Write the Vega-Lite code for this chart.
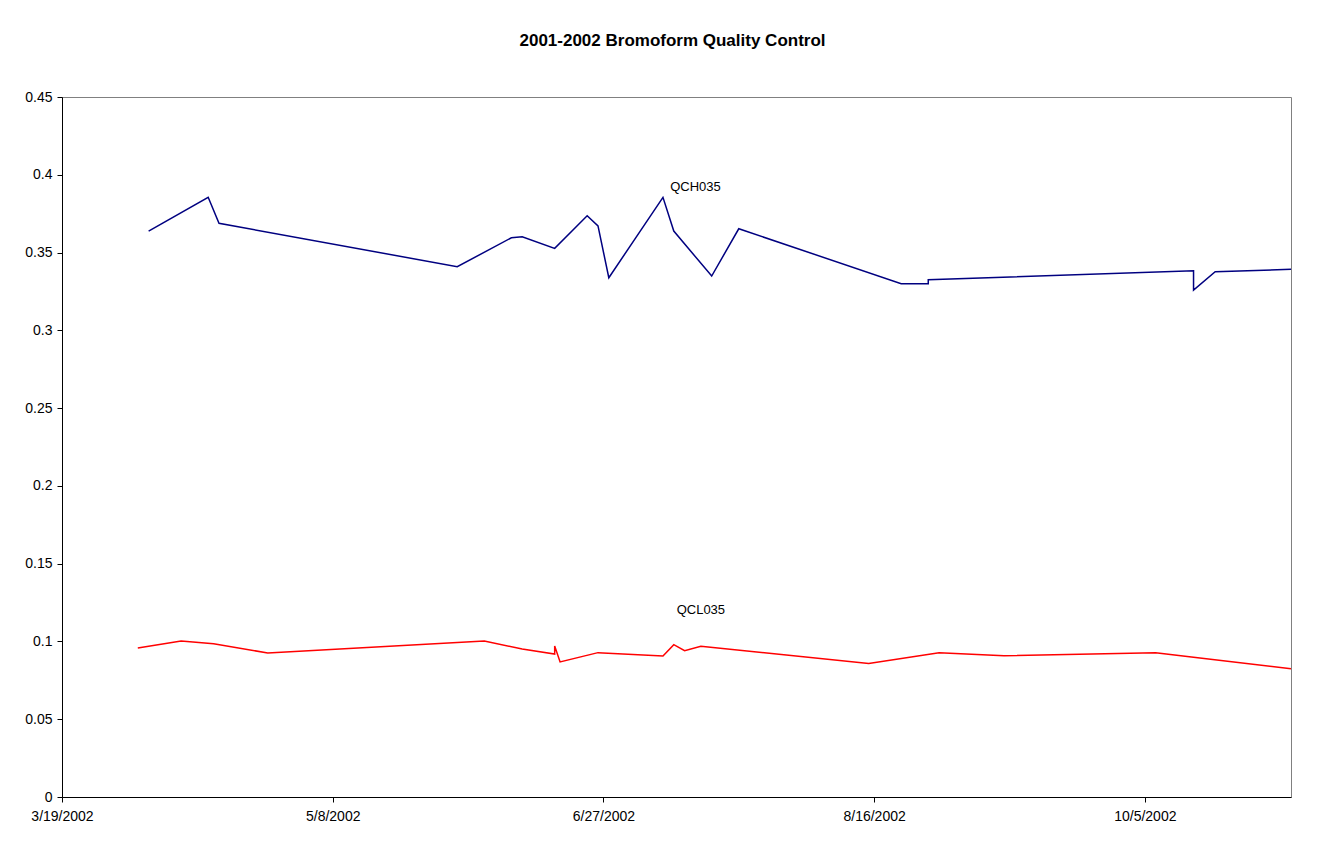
{
  "$schema": "https://vega.github.io/schema/vega-lite/v6.json",
  "autosize": {"type": "none"},
  "width": 1229,
  "height": 700,
  "padding": {"left": 62, "top": 97, "right": 51, "bottom": 47},
  "background": "white",
  "title": {
    "text": "2001-2002 Bromoform Quality Control",
    "font": "Liberation Sans",
    "fontSize": 17,
    "fontWeight": "bold",
    "color": "black",
    "anchor": "middle",
    "offset": 40,
    "dx": -4
  },
  "config": {
    "view": {"stroke": "#808080", "strokeWidth": 1},
    "axis": {
      "labelFont": "Liberation Sans",
      "labelFontSize": 14,
      "labelColor": "black",
      "domainColor": "black",
      "tickColor": "black",
      "grid": false,
      "title": null,
      "tickSize": 5
    }
  },
  "datasets": {
    "series": [
      {"series": "QCH035", "seq": 1, "date": "2002-04-04", "value": 0.3638},
      {"series": "QCH035", "seq": 2, "date": "2002-04-15", "value": 0.3855},
      {"series": "QCH035", "seq": 3, "date": "2002-04-17", "value": 0.3688},
      {"series": "QCH035", "seq": 4, "date": "2002-05-31", "value": 0.3409},
      {"series": "QCH035", "seq": 5, "date": "2002-06-10", "value": 0.3595},
      {"series": "QCH035", "seq": 6, "date": "2002-06-12", "value": 0.3602},
      {"series": "QCH035", "seq": 7, "date": "2002-06-18", "value": 0.3527},
      {"series": "QCH035", "seq": 8, "date": "2002-06-24", "value": 0.3737},
      {"series": "QCH035", "seq": 9, "date": "2002-06-26", "value": 0.3671},
      {"series": "QCH035", "seq": 10, "date": "2002-06-28", "value": 0.3338},
      {"series": "QCH035", "seq": 11, "date": "2002-07-08", "value": 0.3855},
      {"series": "QCH035", "seq": 12, "date": "2002-07-10", "value": 0.3638},
      {"series": "QCH035", "seq": 13, "date": "2002-07-17", "value": 0.3349},
      {"series": "QCH035", "seq": 14, "date": "2002-07-22", "value": 0.3653},
      {"series": "QCH035", "seq": 15, "date": "2002-08-21", "value": 0.3300},
      {"series": "QCH035", "seq": 16, "date": "2002-08-26", "value": 0.3300},
      {"series": "QCH035", "seq": 17, "date": "2002-08-26", "value": 0.3325},
      {"series": "QCH035", "seq": 18, "date": "2002-10-14", "value": 0.3383},
      {"series": "QCH035", "seq": 19, "date": "2002-10-14", "value": 0.3259},
      {"series": "QCH035", "seq": 20, "date": "2002-10-18", "value": 0.3377},
      {"series": "QCH035", "seq": 21, "date": "2002-11-01", "value": 0.3392},
      {"series": "QCL035", "seq": 1, "date": "2002-04-02", "value": 0.0958},
      {"series": "QCL035", "seq": 2, "date": "2002-04-10", "value": 0.1003},
      {"series": "QCL035", "seq": 3, "date": "2002-04-16", "value": 0.0985},
      {"series": "QCL035", "seq": 4, "date": "2002-04-26", "value": 0.0926},
      {"series": "QCL035", "seq": 5, "date": "2002-06-05", "value": 0.1003},
      {"series": "QCL035", "seq": 6, "date": "2002-06-12", "value": 0.0951},
      {"series": "QCL035", "seq": 7, "date": "2002-06-18", "value": 0.0919},
      {"series": "QCL035", "seq": 8, "date": "2002-06-18", "value": 0.0971},
      {"series": "QCL035", "seq": 9, "date": "2002-06-19", "value": 0.0868},
      {"series": "QCL035", "seq": 10, "date": "2002-06-26", "value": 0.0928},
      {"series": "QCL035", "seq": 11, "date": "2002-07-08", "value": 0.0906},
      {"series": "QCL035", "seq": 12, "date": "2002-07-10", "value": 0.0979},
      {"series": "QCL035", "seq": 13, "date": "2002-07-12", "value": 0.0940},
      {"series": "QCL035", "seq": 14, "date": "2002-07-15", "value": 0.0969},
      {"series": "QCL035", "seq": 15, "date": "2002-08-15", "value": 0.0859},
      {"series": "QCL035", "seq": 16, "date": "2002-08-28", "value": 0.0928},
      {"series": "QCL035", "seq": 17, "date": "2002-09-09", "value": 0.0908},
      {"series": "QCL035", "seq": 18, "date": "2002-10-07", "value": 0.0928},
      {"series": "QCL035", "seq": 19, "date": "2002-10-14", "value": 0.0898},
      {"series": "QCL035", "seq": 20, "date": "2002-11-01", "value": 0.0825}
    ],
    "labels": [
      {"series": "QCH035", "date": "2002-07-14", "value": 0.3896},
      {"series": "QCL035", "date": "2002-07-15", "value": 0.1176}
    ]
  },
  "encoding": {
    "x": {
      "field": "date",
      "type": "temporal",
      "scale": {
        "type": "utc",
        "domain": [
          {"year": 2002, "month": 3, "date": 19, "utc": true},
          {"year": 2002, "month": 11, "date": 1, "utc": true}
        ]
      },
      "axis": {
        "labelExpr": "utcFormat(datum.value, '%-m/%-d/%Y')",
        "labelPadding": 7,
        "labelFlush": false,
        "labelOverlap": false,
        "values": [
          {"year": 2002, "month": 3, "date": 19, "utc": true},
          {"year": 2002, "month": 5, "date": 8, "utc": true},
          {"year": 2002, "month": 6, "date": 27, "utc": true},
          {"year": 2002, "month": 8, "date": 16, "utc": true},
          {"year": 2002, "month": 10, "date": 5, "utc": true}
        ]
      }
    },
    "y": {
      "field": "value",
      "type": "quantitative",
      "scale": {"domain": [0, 0.45], "nice": false, "zero": true},
      "axis": {
        "values": [0, 0.05, 0.1, 0.15, 0.2, 0.25, 0.3, 0.35, 0.4, 0.45],
        "format": "~g",
        "labelPadding": 5,
        "labelFlush": false
      }
    }
  },
  "layer": [
    {
      "data": {"name": "series"},
      "mark": {"type": "line", "strokeWidth": 1.5},
      "encoding": {
        "order": {"field": "seq", "type": "quantitative"},
        "color": {
          "field": "series",
          "type": "nominal",
          "scale": {"domain": ["QCH035", "QCL035"], "range": ["#000080", "#ff0000"]},
          "legend": null
        }
      }
    },
    {
      "data": {"name": "labels"},
      "mark": {
        "type": "text",
        "font": "Liberation Sans",
        "fontSize": 13,
        "color": "black",
        "align": "center",
        "baseline": "alphabetic"
      },
      "encoding": {
        "text": {"field": "series", "type": "nominal"}
      }
    }
  ]
}
